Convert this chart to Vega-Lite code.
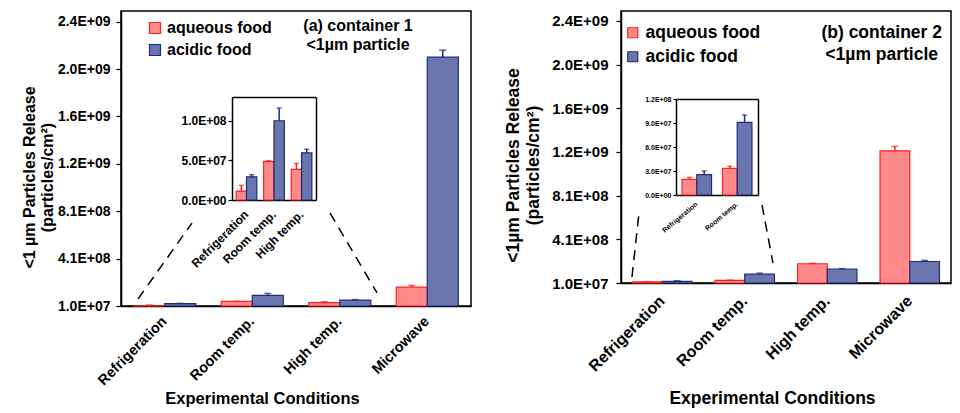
{
  "$schema": "https://vega.github.io/schema/vega-lite/v6.json",
  "padding": {"left": 20, "top": 10, "right": 5, "bottom": 5},
  "background": "white",
  "datasets": {
    "a": [
      {"condition": "Refrigeration", "food": "aqueous food", "value": 11300000, "hi": 18500000},
      {"condition": "Refrigeration", "food": "acidic food", "value": 29300000, "hi": 32000000},
      {"condition": "Room temp.", "food": "aqueous food", "value": 48700000, "hi": 49500000},
      {"condition": "Room temp.", "food": "acidic food", "value": 100000000, "hi": 116000000},
      {"condition": "High temp.", "food": "aqueous food", "value": 38700000, "hi": 46000000},
      {"condition": "High temp.", "food": "acidic food", "value": 59600000, "hi": 64000000},
      {"condition": "Microwave", "food": "aqueous food", "value": 169000000, "hi": 183000000},
      {"condition": "Microwave", "food": "acidic food", "value": 2110000000, "hi": 2170000000}
    ],
    "b": [
      {"condition": "Refrigeration", "food": "aqueous food", "value": 19600000, "hi": 22000000},
      {"condition": "Refrigeration", "food": "acidic food", "value": 25400000, "hi": 30000000},
      {"condition": "Room temp.", "food": "aqueous food", "value": 33300000, "hi": 36000000},
      {"condition": "Room temp.", "food": "acidic food", "value": 90800000, "hi": 100000000},
      {"condition": "High temp.", "food": "aqueous food", "value": 186000000, "hi": 190000000},
      {"condition": "High temp.", "food": "acidic food", "value": 138000000, "hi": 142000000},
      {"condition": "Microwave", "food": "aqueous food", "value": 1220000000, "hi": 1260000000},
      {"condition": "Microwave", "food": "acidic food", "value": 207000000, "hi": 217000000}
    ]
  },
  "bounds": "flush",
  "spacing": 150,
  "resolve": {"scale": {"fill": "independent", "stroke": "independent", "color": "independent"}, "legend": {"fill": "independent", "stroke": "independent"}},
  "hconcat": [
    {
      "width": 350,
      "height": 295,
      "resolve": {"scale": {"x": "independent", "y": "independent", "xOffset": "independent"}},
      "layer": [
        {
          "data": {"name": "a"},
          "encoding": {
            "x": {"field": "condition", "type": "nominal", "sort": ["Refrigeration", "Room temp.", "High temp.", "Microwave"], "scale": {"paddingInner": 0.29, "paddingOuter": 0.145},
              "axis": {"orient": "bottom", "title": "Experimental Conditions", "labelAngle": -45, "labelAlign": "right", "labelBaseline": "middle", "ticks": false, "labelPadding": 13, "labelFontSize": 14.5, "titleFontSize": 16.5, "titleX": 141, "titleY": 92, "titleBaseline": "middle", "titleAlign": "center"}},
            "xOffset": {"field": "food", "type": "nominal", "sort": ["aqueous food", "acidic food"]},
            "y": {"field": "value", "type": "quantitative", "scale": {"domain": [10000000, 2500000000], "nice": false, "zero": false},
              "axis": {"orient": "left", "title": ["<1 µm Particles Release", "(particles/cm²)"], "values": [10000000, 410000000, 810000000, 1210000000, 1610000000, 2010000000, 2410000000], "labelExpr": "replace(format(datum.value, '.1e'), 'e+', 'E+0')", "labelFontSize": 14, "tickSize": 5, "labelPadding": 6, "titleFontSize": 16, "titleX": -92, "titleY": 166, "titleBaseline": "middle", "titleAlign": "center", "titleLineHeight": 18}}
          },
          "layer": [
            {"mark": {"type": "bar", "strokeWidth": 1.2},
             "encoding": {
               "y2": {"datum": 10000000},
               "fill": {"field": "food", "type": "nominal", "scale": {"domain": ["aqueous food", "acidic food"], "range": ["#ff8a8a", "#6a75ad"]},
                 "legend": {"orient": "none", "legendX": 26, "legendY": 9, "title": null, "symbolType": "square", "symbolSize": 121, "labelFontSize": 16, "rowPadding": 6, "labelOffset": 4, "symbolStrokeWidth": 1.2}},
               "stroke": {"field": "food", "type": "nominal", "scale": {"domain": ["aqueous food", "acidic food"], "range": ["#ff1f1f", "#1c2c7c"]},
                 "legend": {"orient": "none", "legendX": 26, "legendY": 9, "title": null, "symbolType": "square", "symbolSize": 121, "labelFontSize": 16, "rowPadding": 6, "labelOffset": 4, "symbolStrokeWidth": 1.2}}
             }},
            {"mark": {"type": "rule", "strokeWidth": 1.5},
             "encoding": {"y2": {"field": "hi"}, "stroke": {"field": "food", "type": "nominal"}}},
            {"mark": {"type": "tick", "thickness": 1.5, "size": 7},
             "encoding": {"y": {"field": "hi", "type": "quantitative"},
               "color": {"field": "food", "type": "nominal", "scale": {"domain": ["aqueous food", "acidic food"], "range": ["#ff1f1f", "#1c2c7c"]}, "legend": null}}}
          ]
        },
        {
          "data": {"name": "a"},
          "transform": [{"filter": "datum.condition != 'Microwave'"}],
          "encoding": {
            "x": {"field": "condition", "type": "nominal", "sort": ["Refrigeration", "Room temp.", "High temp."], "scale": {"range": [111, 195], "paddingInner": 0.25, "paddingOuter": 0.15},
              "axis": {"orient": "bottom", "offset": -106, "title": null, "labelAngle": -45, "labelAlign": "right", "labelBaseline": "middle", "ticks": false, "labelPadding": 12, "labelFontSize": 12}},
            "xOffset": {"field": "food", "type": "nominal", "sort": ["aqueous food", "acidic food"]},
            "y": {"field": "value", "type": "quantitative", "scale": {"domain": [0, 130000000], "range": [189, 86], "nice": false},
              "axis": {"orient": "left", "offset": -111, "title": null, "values": [0, 50000000, 100000000], "labelExpr": "replace(format(datum.value, '.1e'), 'e+', 'E+0')", "labelFontSize": 12, "tickSize": 4, "labelPadding": 2}}
          },
          "layer": [
            {"layer": [
              {"mark": {"type": "bar", "strokeWidth": 1.2},
               "encoding": {"fill": {"field": "food", "type": "nominal", "legend": null}, "stroke": {"field": "food", "type": "nominal", "legend": null}}},
              {"mark": {"type": "rule", "strokeWidth": 1.5},
               "encoding": {"y2": {"field": "hi"}, "stroke": {"field": "food", "type": "nominal", "legend": null}}},
              {"mark": {"type": "tick", "thickness": 1.5, "size": 5},
               "encoding": {"y": {"field": "hi", "type": "quantitative"}, "color": {"field": "food", "type": "nominal", "legend": null}}}
            ]},
            {"mark": {"type": "bar", "opacity": 0},
             "encoding": {
               "x": {"field": "condition", "type": "nominal", "sort": ["Refrigeration", "Room temp.", "High temp."], "axis": {"orient": "top", "offset": -86, "title": null, "labels": false, "ticks": false}},
               "y": {"field": "value", "type": "quantitative", "axis": {"orient": "right", "offset": -155, "title": null, "labels": false, "ticks": false}}
             }}
          ],
          "resolve": {"axis": {"x": "independent", "y": "independent"}}
        },
        {
          "data": {"values": [{}]},
          "layer": [
            {"mark": {"type": "rule", "strokeDash": [10, 7], "strokeWidth": 1.5, "color": "black"},
             "encoding": {
               "x": {"datum": 0.194, "type": "quantitative", "scale": {"domain": [0, 4], "nice": false, "zero": false}, "axis": null},
               "x2": {"datum": 0.811},
               "y": {"datum": 69000000, "type": "quantitative", "scale": {"domain": [10000000, 2500000000], "nice": false, "zero": false}, "axis": null},
               "y2": {"datum": 710000000}
             }},
            {"mark": {"type": "rule", "strokeDash": [10, 7], "strokeWidth": 1.5, "color": "black"},
             "encoding": {
               "x": {"datum": 2.389, "type": "quantitative", "axis": null},
               "x2": {"datum": 2.926},
               "y": {"datum": 795000000, "type": "quantitative", "axis": null},
               "y2": {"datum": 120000000}
             }},
            {"mark": {"type": "text", "fontSize": 16, "fontWeight": "bold", "lineHeight": 19, "align": "center", "baseline": "middle", "color": "black"},
             "encoding": {
               "x": {"datum": 2.709, "type": "quantitative", "axis": null},
               "y": {"datum": 2373000000, "type": "quantitative", "axis": null},
               "text": {"value": ["(a) container 1", "<1µm particle"]}
             }}
          ]
        }
      ]
    },
    {
      "width": 330,
      "height": 272,
      "resolve": {"scale": {"x": "independent", "y": "independent", "xOffset": "independent"}},
      "layer": [
        {
          "data": {"name": "b"},
          "encoding": {
            "x": {"field": "condition", "type": "nominal", "sort": ["Refrigeration", "Room temp.", "High temp.", "Microwave"], "scale": {"paddingInner": 0.28, "paddingOuter": 0.14},
              "axis": {"orient": "bottom", "title": "Experimental Conditions", "labelAngle": -45, "labelAlign": "right", "labelBaseline": "middle", "ticks": false, "labelPadding": 15, "labelFontSize": 16, "titleFontSize": 17.5, "titleX": 151, "titleY": 115, "titleBaseline": "middle", "titleAlign": "center"}},
            "xOffset": {"field": "food", "type": "nominal", "sort": ["aqueous food", "acidic food"]},
            "y": {"field": "value", "type": "quantitative", "scale": {"domain": [10000000, 2500000000], "nice": false, "zero": false},
              "axis": {"orient": "left", "title": ["<1µm Particles Release", "(particles/cm²)"], "values": [10000000, 410000000, 810000000, 1210000000, 1610000000, 2010000000, 2410000000], "labelExpr": "replace(format(datum.value, '.1e'), 'e+', 'E+0')", "labelFontSize": 15, "tickSize": 5, "labelPadding": 8, "titleFontSize": 17.5, "titleX": -108, "titleY": 154, "titleBaseline": "middle", "titleAlign": "center", "titleLineHeight": 20}}
          },
          "layer": [
            {"mark": {"type": "bar", "strokeWidth": 1.2},
             "encoding": {
               "y2": {"datum": 10000000},
               "fill": {"field": "food", "type": "nominal", "scale": {"domain": ["aqueous food", "acidic food"], "range": ["#ff8a8a", "#6a75ad"]},
                 "legend": {"orient": "none", "legendX": 3, "legendY": 13, "title": null, "symbolType": "square", "symbolSize": 100, "labelFontSize": 17.5, "rowPadding": 5, "labelOffset": 4, "symbolStrokeWidth": 1.2}},
               "stroke": {"field": "food", "type": "nominal", "scale": {"domain": ["aqueous food", "acidic food"], "range": ["#ff1f1f", "#1c2c7c"]},
                 "legend": {"orient": "none", "legendX": 3, "legendY": 13, "title": null, "symbolType": "square", "symbolSize": 100, "labelFontSize": 17.5, "rowPadding": 5, "labelOffset": 4, "symbolStrokeWidth": 1.2}}
             }},
            {"mark": {"type": "rule", "strokeWidth": 1.5},
             "encoding": {"y2": {"field": "hi"}, "stroke": {"field": "food", "type": "nominal"}}},
            {"mark": {"type": "tick", "thickness": 1.5, "size": 7},
             "encoding": {"y": {"field": "hi", "type": "quantitative"},
               "color": {"field": "food", "type": "nominal", "scale": {"domain": ["aqueous food", "acidic food"], "range": ["#ff1f1f", "#1c2c7c"]}, "legend": null}}}
          ]
        },
        {
          "data": {"name": "b"},
          "transform": [{"filter": "datum.condition == 'Refrigeration' || datum.condition == 'Room temp.'"}],
          "encoding": {
            "x": {"field": "condition", "type": "nominal", "sort": ["Refrigeration", "Room temp."], "scale": {"range": [55, 137], "paddingInner": 0.27, "paddingOuter": 0.15},
              "axis": {"orient": "bottom", "offset": -88, "title": null, "labelAngle": -40, "labelAlign": "right", "labelBaseline": "middle", "ticks": false, "labelPadding": 8, "labelFontSize": 7}},
            "xOffset": {"field": "food", "type": "nominal", "sort": ["aqueous food", "acidic food"]},
            "y": {"field": "value", "type": "quantitative", "scale": {"domain": [0, 120000000], "range": [184, 88], "nice": false},
              "axis": {"orient": "left", "offset": -55, "title": null, "values": [0, 30000000, 60000000, 90000000, 120000000], "labelExpr": "replace(format(datum.value, '.1e'), 'e+', 'E+0')", "labelFontSize": 7, "tickSize": 3, "labelPadding": 2}}
          },
          "layer": [
            {"layer": [
              {"mark": {"type": "bar", "strokeWidth": 1.2},
               "encoding": {"fill": {"field": "food", "type": "nominal", "legend": null}, "stroke": {"field": "food", "type": "nominal", "legend": null}}},
              {"mark": {"type": "rule", "strokeWidth": 1.5},
               "encoding": {"y2": {"field": "hi"}, "stroke": {"field": "food", "type": "nominal", "legend": null}}},
              {"mark": {"type": "tick", "thickness": 1.5, "size": 5},
               "encoding": {"y": {"field": "hi", "type": "quantitative"}, "color": {"field": "food", "type": "nominal", "legend": null}}}
            ]},
            {"mark": {"type": "bar", "opacity": 0},
             "encoding": {
               "x": {"field": "condition", "type": "nominal", "sort": ["Refrigeration", "Room temp."], "axis": {"orient": "top", "offset": -88, "title": null, "labels": false, "ticks": false}},
               "y": {"field": "value", "type": "quantitative", "axis": {"orient": "right", "offset": -193, "title": null, "labels": false, "ticks": false}}
             }}
          ],
          "resolve": {"axis": {"x": "independent", "y": "independent"}}
        },
        {
          "data": {"values": [{}]},
          "layer": [
            {"mark": {"type": "rule", "strokeDash": [10, 7], "strokeWidth": 1.5, "color": "black"},
             "encoding": {
               "x": {"datum": 0.133, "type": "quantitative", "scale": {"domain": [0, 4], "nice": false, "zero": false}, "axis": null},
               "x2": {"datum": 0.218},
               "y": {"datum": 65000000, "type": "quantitative", "scale": {"domain": [10000000, 2500000000], "nice": false, "zero": false}, "axis": null},
               "y2": {"datum": 650000000}
             }},
            {"mark": {"type": "rule", "strokeDash": [10, 7], "strokeWidth": 1.5, "color": "black"},
             "encoding": {
               "x": {"datum": 1.709, "type": "quantitative", "axis": null},
               "x2": {"datum": 1.842},
               "y": {"datum": 724000000, "type": "quantitative", "axis": null},
               "y2": {"datum": 193000000}
             }},
            {"mark": {"type": "text", "fontSize": 17.5, "fontWeight": "bold", "lineHeight": 22, "align": "center", "baseline": "middle", "color": "black"},
             "encoding": {
               "x": {"datum": 3.16, "type": "quantitative", "axis": null},
               "y": {"datum": 2299000000, "type": "quantitative", "axis": null},
               "text": {"value": ["(b) container 2", "<1µm particle"]}
             }}
          ]
        }
      ]
    }
  ],
  "config": {
    "font": "Liberation Sans",
    "view": {"stroke": "black", "strokeWidth": 1.5},
    "axis": {"grid": false, "domainColor": "black", "domainWidth": 1.5, "tickColor": "black", "tickWidth": 1.2, "labelColor": "black", "titleColor": "black", "labelFont": "Liberation Sans", "titleFont": "Liberation Sans", "labelFontWeight": "bold", "titleFontWeight": "bold", "labelOverlap": false},
    "legend": {"labelFont": "Liberation Sans", "labelFontWeight": "bold", "labelColor": "black"},
    "text": {"font": "Liberation Sans"}
  }
}
